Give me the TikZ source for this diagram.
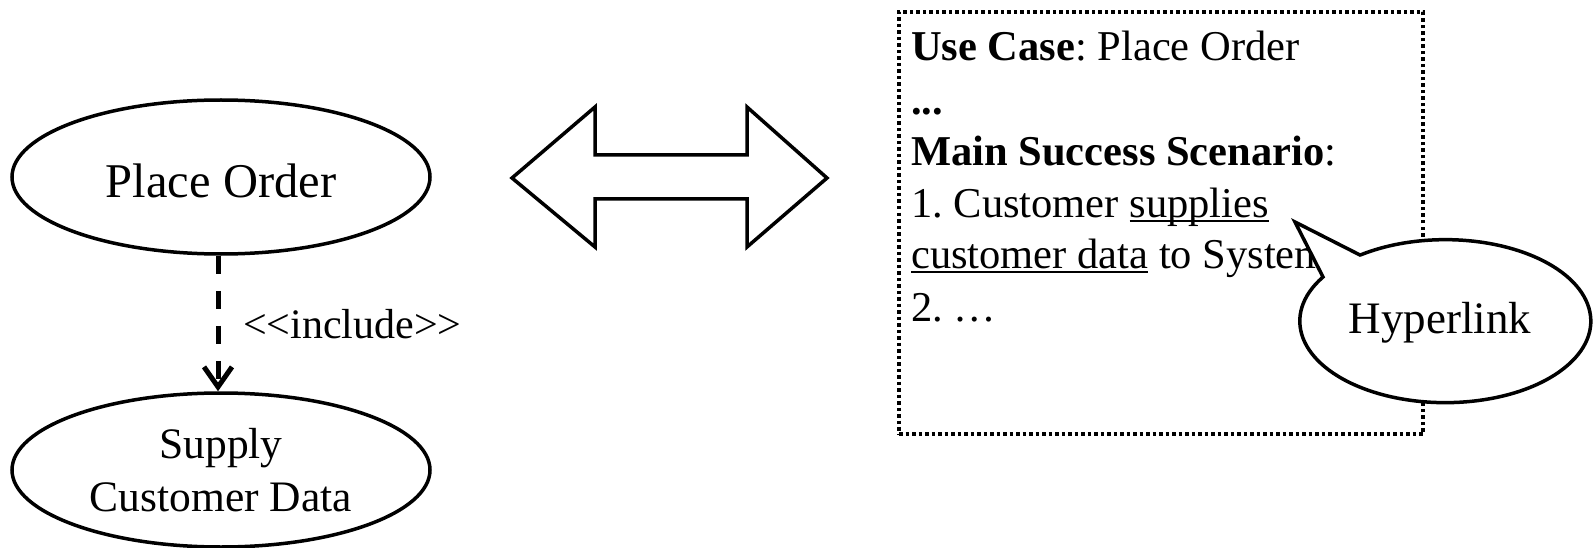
\documentclass[tikz,border=0pt]{standalone}
\usepackage{fontspec}
\setmainfont{Liberation Serif}
\newfontfamily\incfont{Liberation Serif}
\usetikzlibrary{shapes.geometric,arrows.meta}
\frenchspacing
\newcommand{\ulx}[1]{\setbox0\hbox{#1}\rlap{\rule[-4.5pt]{\wd0}{2pt}}\box0{}}
\begin{document}
\begin{tikzpicture}[x=1pt,y=-1pt,
  uc/.style={ellipse,draw,line width=3.5pt,minimum width=418pt,minimum height=154pt,inner sep=0pt,align=center},
  boxline/.style={anchor=base west,inner sep=0pt,font=\fontsize{42.5}{52}\selectfont},
]
\useasboundingbox (0,0) rectangle (1595,548);
% left use case diagram
\node[uc,font=\fontsize{48.5}{56}\selectfont,text height=40pt,text depth=0pt] (po) at (221,177) {Place Order};
\node[uc,font=\fontsize{43.5}{53}\selectfont] (scd) at (221,470) {Supply\\Customer Data};
\draw[line width=5pt,dash pattern=on 18pt off 17pt,-{Straight Barb[length=20pt,width=28pt]}] ([xshift=-3pt]po.south) -- ([xshift=-3pt]scd.north);
\node[anchor=base west,inner sep=0pt,font=\incfont\fontsize{42}{48}\selectfont] (inc) at (243,338) {<<include>>};
% double arrow
\draw[line width=3.5pt,line join=miter] (512,178) -- (595,107) -- (595,155) -- (747,155) -- (747,107) -- (827,178) -- (747,247) -- (747,199) -- (595,199) -- (595,247) -- cycle;
% use case text box
\node[draw,line width=3.5pt,dash pattern=on 3.5pt off 3pt,minimum width=524pt,minimum height=422pt,inner sep=0pt] (box) at (1161,223) {};
\node[boxline] (l1) at (911,61) {\textbf{Use Case}: Place Order};
\node[boxline] (l2) at (911,115) {\textbf{...}};
\node[boxline] (l3) at (911,166) {\textbf{Main Success Scenario}:};
\node[boxline] (l4) at (911,218) {1. Customer \ulx{supplies}};
\node[boxline] (l5) at (911,268) {\ulx{customer data} to System};
\node[boxline] (l6) at (911,321) {2. …};
% callout
\path[draw,fill=white,line width=3.5pt,line join=miter] (1360,255) -- (1295,222) -- (1323,277) arc[start angle=-147.2,end angle=-485.5,x radius=145.5,y radius=81.5] -- cycle;
\node[anchor=base,inner sep=0pt,font=\fontsize{45}{52}\selectfont] (hl) at (1440,333) {Hyperlink};
\end{tikzpicture}
\end{document}
